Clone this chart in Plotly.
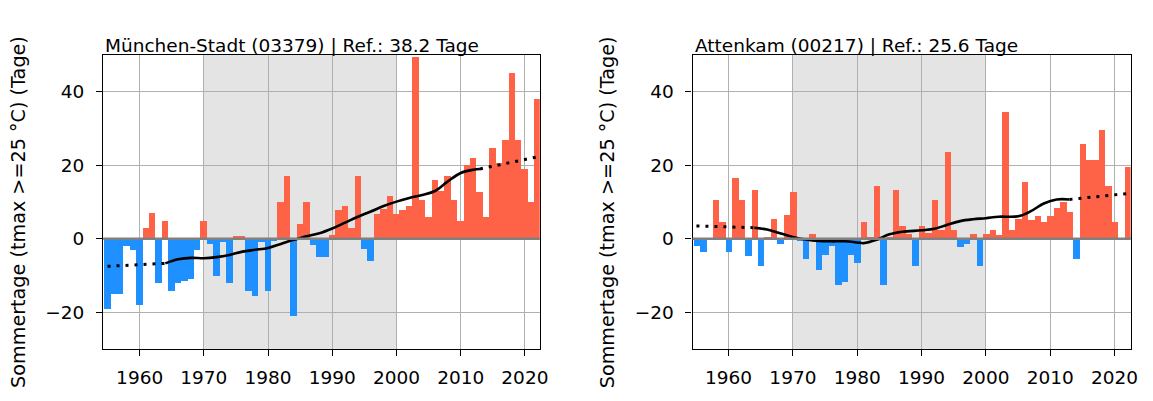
import plotly.graph_objects as go

# ---------------- data ----------------
years = list(range(1955, 2023))

muc_values = [
    -19.0, -15.0, -15.0, -1.9, -3.0, -18.0, 2.9, 6.9, -12.0, 4.9,      # 1955-1964
    -14.1, -12.0, -11.5, -11.0, -3.0, 4.9, -1.5, -10.0, -1.0, -12.0,   # 1965-1974
    0.7, 0.7, -14.1, -15.7, -0.8, -14.1, -0.7, 10.1, 17.2, -21.1,      # 1975-1984
    4.0, 10.1, -1.7, -5.0, -5.0, 1.0, 7.9, 9.0, 2.9, 17.1,             # 1985-1994
    -2.9, -6.1, 6.8, 8.0, 11.6, 6.8, 7.9, 9.0, 49.4, 10.5,             # 1995-2004
    5.9, 16.1, 13.0, 17.1, 10.6, 4.8, 20.0, 22.1, 12.7, 5.9,           # 2005-2014
    24.8, 20.5, 27.0, 45.0, 27.0, 18.9, 10.0, 37.9,                    # 2015-2022
]

att_values = [
    -2.0, -3.5, 0.0, 10.6, 4.5, -3.5, 16.6, 10.6, -4.6, 13.4,          # 1955-1964
    -7.3, 0.3, 5.3, -1.5, 6.4, 12.7, -0.5, -5.6, 1.4, -8.4,            # 1965-1974
    -4.5, -2.0, -12.6, -11.7, -4.5, -6.7, 4.5, 0.5, 14.3, -12.5,       # 1975-1984
    0.3, 13.4, 3.5, 1.2, -7.3, 3.4, 1.5, 10.6, 2.5, 23.6,              # 1985-1994
    2.3, -2.3, -1.4, 1.4, -7.3, 1.4, 2.3, 1.0, 34.5, 2.5,              # 1995-2004
    5.5, 15.5, 5.2, 6.2, 4.5, 6.2, 8.4, 10.0, 7.3, -5.6,               # 2005-2014
    25.7, 21.5, 21.5, 29.7, 14.3, 4.5, 0.0, 19.4,                      # 2015-2022
]

# smoothed trend (solid part) and extrapolated (dotted) parts
muc_trend_years = [1964, 1966, 1968, 1970, 1972, 1974, 1976, 1978, 1980, 1982,
                   1984, 1986, 1988, 1990, 1992, 1994, 1996, 1998, 2000, 2002,
                   2004, 2006, 2008, 2010, 2012, 2013]
muc_trend_values = [-6.7, -5.6, -5.2, -5.3, -5.0, -4.4, -3.5, -3.0, -2.5, -1.4,
                    -0.3, 0.7, 1.5, 2.8, 4.4, 6.0, 7.4, 8.9, 10.1, 11.1,
                    11.9, 13.0, 15.6, 17.9, 18.8, 19.0]
muc_pre_years = [1955, 1964]
muc_pre_values = [-7.5, -6.7]
muc_post_years = [2013, 2022]
muc_post_values = [19.0, 22.3]

att_trend_years = [1964, 1966, 1968, 1970, 1972, 1974, 1976, 1978, 1980, 1981,
                   1983, 1985, 1987, 1990, 1992, 1994, 1996, 1998, 2000, 2002,
                   2005, 2007, 2009, 2011, 2013]
att_trend_values = [3.0, 2.5, 1.5, 0.5, -0.2, -0.6, -0.7, -0.7, -1.0, -1.2,
                    -0.3, 1.2, 1.9, 2.3, 2.7, 3.8, 4.8, 5.3, 5.6, 6.0,
                    6.1, 7.5, 9.6, 10.7, 10.7]
att_pre_years = [1955, 1964]
att_pre_values = [3.5, 3.0]
att_post_years = [2013, 2022]
att_post_values = [10.7, 12.3]

muc_title = "München-Stadt (03379) | Ref.: 38.2 Tage"
att_title = "Attenkam (00217) | Ref.: 25.6 Tage"
y_label = "Sommertage (tmax >=25 °C) (Tage)"
x_ticks = [1960, 1970, 1980, 1990, 2000, 2010, 2020]
y_ticks = [-20, 0, 20, 40]
ref_period = [1970, 2000]

# ---------------- styling ----------------
# page body has an 8px default margin: figure is laid out in page pixels minus 8
OFF = 8
W, H = 1153 - OFF, 401 - OFF
RED = "#FF6347"
BLUE = "#1E90FF"
FONT = "DejaVu Sans"
FS = 18.5

def colors(vals):
    return [RED if v >= 0 else BLUE for v in vals]

def px_x(p):
    return (p - OFF) / W

def px_y(p):
    return (H - (p - OFF)) / H

fig = go.Figure()

panels = [
    ("x", "y", muc_values, muc_trend_years, muc_trend_values, muc_pre_years, muc_pre_values,
     muc_post_years, muc_post_values),
    ("x2", "y2", att_values, att_trend_years, att_trend_values, att_pre_years, att_pre_values,
     att_post_years, att_post_values),
]

for xa, ya, vals, ty, tv, py, pv, qy, qv in panels:
    fig.add_trace(go.Bar(x=years, y=vals, width=1.0, marker=dict(color=colors(vals), line=dict(width=0)),
                         xaxis=xa, yaxis=ya, showlegend=False, hoverinfo="x+y"))
    fig.add_trace(go.Scatter(x=ty, y=tv, mode="lines", line=dict(color="black", width=2.6, shape="spline"),
                             xaxis=xa, yaxis=ya, showlegend=False))
    for sx, sy in ((py, pv), (qy, qv)):
        fig.add_trace(go.Scatter(x=sx, y=sy, mode="lines", line=dict(color="black", width=3, dash="3px,6px"),
                                 xaxis=xa, yaxis=ya, showlegend=False))

ydom = [px_y(349), px_y(55)]
xdom1 = [px_x(104), px_x(544)]
xdom2 = [px_x(698), px_x(1139.5)]

def xaxis(dom, rng, anchor):
    return dict(domain=dom, range=rng, anchor=anchor, tickvals=x_ticks, ticks="outside", ticklen=6,
                tickwidth=1.3, tickcolor="black", showline=True, linecolor="black", linewidth=1.3,
                mirror=True, showgrid=True, gridcolor="#b0b0b0", gridwidth=1.3, zeroline=False,
                tickfont=dict(family=FONT, size=FS, color="black"), ticklabelstandoff=6)

def yaxis(anchor):
    return dict(domain=ydom, range=[-30, 50], anchor=anchor, tickvals=y_ticks, ticks="outside", ticklen=6,
                tickwidth=1.3, tickcolor="black", showline=True, linecolor="black", linewidth=1.3,
                mirror=True, showgrid=True, gridcolor="#b0b0b0", gridwidth=1.3, zeroline=False,
                tickfont=dict(family=FONT, size=FS, color="black"), ticklabelstandoff=8)

shapes = []
annotations = []
for xa, ya, title, lx in (("x", "y", muc_title, 18), ("x2", "y2", att_title, 612)):
    shapes.append(dict(type="rect", xref=xa, yref=ya + " domain", x0=ref_period[0], x1=ref_period[1],
                       y0=0, y1=1, fillcolor="#e4e4e4", line=dict(width=0), layer="below"))
    shapes.append(dict(type="line", xref=xa + " domain", yref=ya, x0=0, x1=1, y0=0, y1=0,
                       line=dict(color="#808080", width=2.4), layer="above"))
    annotations.append(dict(text=title, xref=xa + " domain", yref=ya + " domain", x=0, y=1,
                            xanchor="left", yanchor="bottom", showarrow=False, yshift=-3,
                            font=dict(family=FONT, size=FS, color="black")))
    annotations.append(dict(text=y_label, xref="paper", yref="paper", x=px_x(lx), y=px_y(212),
                            xanchor="center", yanchor="middle", textangle=-90, showarrow=False,
                            borderpad=0,
                            font=dict(family=FONT, size=19.2, color="black")))

fig.update_layout(
    width=W, height=H, margin=dict(l=0, r=0, t=0, b=0),
    paper_bgcolor="white", plot_bgcolor="white",
    bargap=0, barmode="overlay",
    xaxis=xaxis(xdom1, [1954.33, 2022.32], "y"),
    yaxis=yaxis("x"),
    xaxis2=xaxis(xdom2, [1954.40, 2022.5], "y2"),
    yaxis2=yaxis("x2"),
    shapes=shapes, annotations=annotations,
    font=dict(family=FONT, size=FS, color="black"),
)

fig.write_html("out.html")
